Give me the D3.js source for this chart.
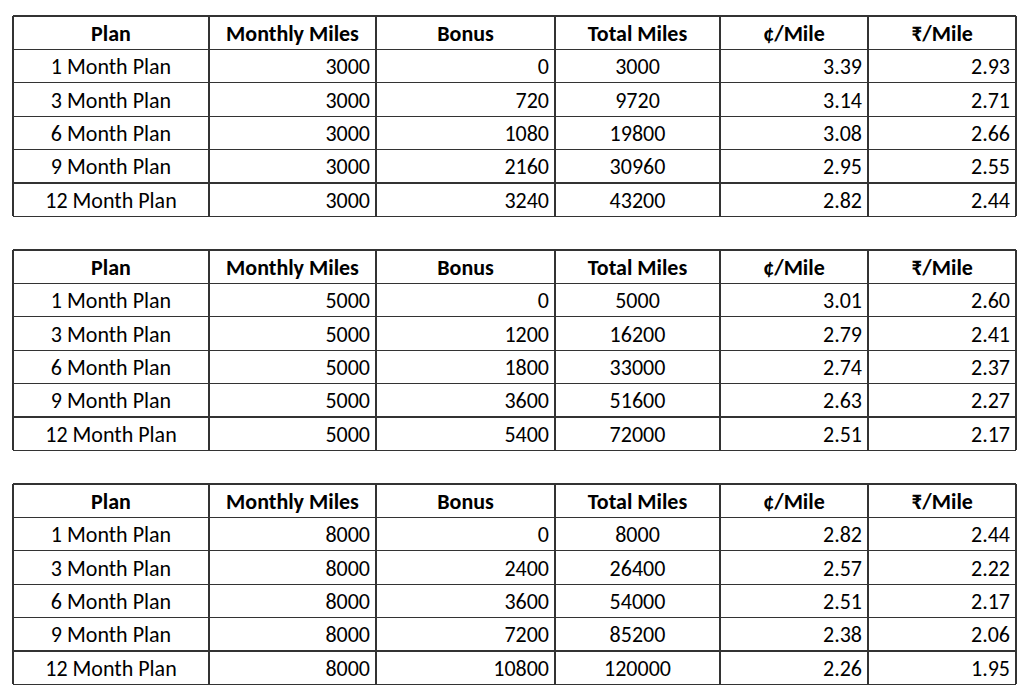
<!DOCTYPE html>
<html><head><meta charset="utf-8">
<script src="https://cdn.jsdelivr.net/npm/d3@7"></script>
<style>body{margin:0;background:#fff}</style>
</head><body>
<svg id="chart" width="1024" height="699"></svg>
<script>
const headers = ["Plan", "Monthly Miles", "Bonus", "Total Miles", "¢/Mile", "₹/Mile"];
const plans = ["1 Month Plan", "3 Month Plan", "6 Month Plan", "9 Month Plan", "12 Month Plan"];
const monthly = [3000, 5000, 8000];
const bonus = [[0, 720, 1080, 2160, 3240], [0, 1200, 1800, 3600, 5400], [0, 2400, 3600, 7200, 10800]];
const total = [[3000, 9720, 19800, 30960, 43200], [5000, 16200, 33000, 51600, 72000], [8000, 26400, 54000, 85200, 120000]];
const centsPerMile = [[3.39, 3.14, 3.08, 2.95, 2.82], [3.01, 2.79, 2.74, 2.63, 2.51], [2.82, 2.57, 2.51, 2.38, 2.26]];
const rupeesPerMile = [[2.93, 2.71, 2.66, 2.55, 2.44], [2.60, 2.41, 2.37, 2.27, 2.17], [2.44, 2.22, 2.17, 2.06, 1.95]];

const colEdges = [13, 209, 376, 555, 720, 868, 1016];
const align = ["middle", "end", "end", "middle", "end", "end"];
const svg = d3.select("#chart");
const font = "Calibri, Carlito, Lato, 'Open Sans', sans-serif";

const tableY = d3.scaleBand().domain([0, 1, 2]).range([16, 718]).paddingInner(0);
const rowH = 33.4;

monthly.forEach((m, t) => {
  const top = tableY(t);
  const rows = [headers].concat(plans.map((p, i) => [
    p, m, bonus[t][i], total[t][i],
    centsPerMile[t][i].toFixed(2), rupeesPerMile[t][i].toFixed(2)
  ]));
  const y = d3.scaleBand().domain(d3.range(rows.length)).range([top, top + rowH * rows.length]);
  const g = svg.append("g");

  g.selectAll("line.h").data(d3.range(rows.length + 1)).join("line")
    .attr("x1", colEdges[0]).attr("x2", colEdges[6])
    .attr("y1", i => top + i * y.bandwidth()).attr("y2", i => top + i * y.bandwidth())
    .attr("stroke", "#333").attr("stroke-width", 1.2).attr("shape-rendering", "crispEdges");
  g.selectAll("line.v").data(colEdges).join("line")
    .attr("x1", d => d).attr("x2", d => d)
    .attr("y1", top).attr("y2", top + rows.length * y.bandwidth())
    .attr("stroke", "#333").attr("stroke-width", 1.2).attr("shape-rendering", "crispEdges");

  rows.forEach((r, ri) => {
    g.selectAll(null).data(r).join("text")
      .attr("x", (d, ci) => align[ri === 0 ? 0 : ci] === "middle"
        ? (colEdges[ci] + colEdges[ci + 1]) / 2 : colEdges[ci + 1] - 6)
      .attr("y", y(ri) + y.bandwidth() / 2 + 8)
      .attr("text-anchor", (d, ci) => ri === 0 ? "middle" : align[ci])
      .attr("font-family", font)
      .attr("font-size", 22)
      .attr("font-weight", ri === 0 ? "bold" : "normal")
      .attr("fill", "#000")
      .text(d => d);
  });
});
</script>
</body></html>
